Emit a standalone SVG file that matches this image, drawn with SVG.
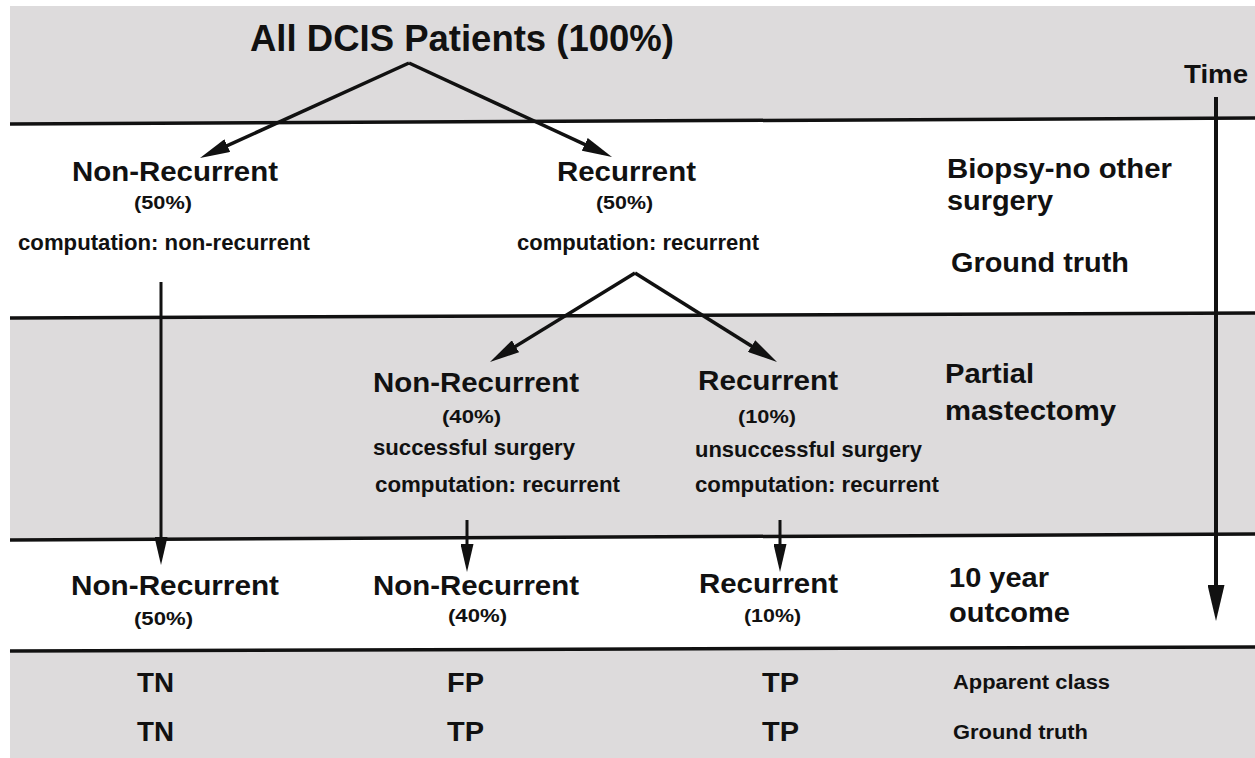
<svg xmlns="http://www.w3.org/2000/svg" width="1255" height="758" viewBox="0 0 1255 758">
  <style>
    text { font-family: "Liberation Sans", Arial, Helvetica, sans-serif; font-weight: bold; fill: #111; }
    .big { font-size: 28px; }
    .pct { font-size: 19px; }
    .small { font-size: 22px; }
    .stage { font-size: 27px; }
    .cls { font-size: 27px; }
    .note { font-size: 20px; }
    .band { fill: #dddbdc; }
    .rule { stroke: #111; stroke-width: 3.5; fill: none; }
    .edge { stroke: #111; stroke-width: 3.5; fill: none; marker-end: url(#head); }
    .drop { stroke: #111; stroke-width: 3; fill: none; marker-end: url(#headV); }
  </style>
  <defs>
    <marker id="head" markerUnits="userSpaceOnUse" viewBox="0 0 30 14" markerWidth="30" markerHeight="14" refX="20" refY="7" orient="auto">
      <path d="M0,0 L30,7 L0,14 z" fill="#111"/>
    </marker>
    <marker id="headV" markerUnits="userSpaceOnUse" viewBox="0 0 28 13" markerWidth="28" markerHeight="13" refX="18" refY="6.5" orient="auto">
      <path d="M0,0 L28,6.5 L0,13 z" fill="#111"/>
    </marker>
    <marker id="headT" markerUnits="userSpaceOnUse" viewBox="0 0 36 17" markerWidth="36" markerHeight="17" refX="26" refY="8.5" orient="auto">
      <path d="M0,0 L36,8.5 L0,17 z" fill="#111"/>
    </marker>
  </defs>

  <!-- alternating stage bands -->
  <g id="bands">
    <polygon class="band" points="10,6 1255,6 1255,118 10,124"/>
    <polygon class="band" points="10,318 1255,313 1255,534 10,540"/>
    <polygon class="band" points="10,651 1255,647 1255,758 10,758"/>
    <line class="rule" x1="10" y1="124" x2="1255" y2="118"/>
    <line class="rule" x1="10" y1="318" x2="1255" y2="313"/>
    <line class="rule" x1="10" y1="540" x2="1255" y2="534"/>
    <line class="rule" x1="10" y1="651" x2="1255" y2="647" stroke-width="5"/>
  </g>

  <!-- connectors -->
  <g id="connectors">
    <polyline class="edge" points="409,63 209.1,153.9"/>
    <polyline class="edge" points="409,63 602.9,152.8"/>
    <line class="drop" x1="161" y1="282" x2="161" y2="555"/>
    <polyline class="edge" points="635,273 498.5,356.8"/>
    <polyline class="edge" points="635,273 768.5,356.7"/>
    <line class="drop" x1="467" y1="520" x2="467" y2="562"/>
    <line class="drop" x1="780" y1="520" x2="780" y2="562"/>
    <line x1="1216" y1="97" x2="1216" y2="611" stroke="#111" stroke-width="4" marker-end="url(#headT)"/>
  </g>

  <g id="root">
    <text x="250" y="51" font-size="36" textLength="424" lengthAdjust="spacingAndGlyphs">All DCIS Patients (100%)</text>
  </g>

  <g id="time-label">
    <text x="1184" y="83" font-size="26" textLength="64" lengthAdjust="spacingAndGlyphs">Time</text>
  </g>

  <g id="biopsy-nonrecurrent">
    <text class="big" x="72" y="181" textLength="206" lengthAdjust="spacingAndGlyphs">Non-Recurrent</text>
    <text class="pct" x="134" y="209" textLength="58" lengthAdjust="spacingAndGlyphs">(50%)</text>
    <text class="small" x="18" y="250" textLength="292" lengthAdjust="spacingAndGlyphs">computation: non-recurrent</text>
  </g>

  <g id="biopsy-recurrent">
    <text class="big" x="557" y="181" textLength="139" lengthAdjust="spacingAndGlyphs">Recurrent</text>
    <text class="pct" x="596" y="209" textLength="57" lengthAdjust="spacingAndGlyphs">(50%)</text>
    <text class="small" x="517" y="250" textLength="242" lengthAdjust="spacingAndGlyphs">computation: recurrent</text>
  </g>

  <g id="surgery-nonrecurrent">
    <text class="big" x="373" y="392" textLength="206" lengthAdjust="spacingAndGlyphs">Non-Recurrent</text>
    <text class="pct" x="442" y="423" textLength="59" lengthAdjust="spacingAndGlyphs">(40%)</text>
    <text class="small" x="373" y="455" textLength="202" lengthAdjust="spacingAndGlyphs">successful surgery</text>
    <text class="small" x="375" y="492" textLength="245" lengthAdjust="spacingAndGlyphs">computation: recurrent</text>
  </g>

  <g id="surgery-recurrent">
    <text class="big" x="698" y="390" textLength="140" lengthAdjust="spacingAndGlyphs">Recurrent</text>
    <text class="pct" x="738" y="423" textLength="58" lengthAdjust="spacingAndGlyphs">(10%)</text>
    <text class="small" x="695" y="457" textLength="227" lengthAdjust="spacingAndGlyphs">unsuccessful surgery</text>
    <text class="small" x="695" y="492" textLength="244" lengthAdjust="spacingAndGlyphs">computation: recurrent</text>
  </g>

  <g id="outcome-nonrecurrent-50">
    <text class="big" x="71" y="595" textLength="208" lengthAdjust="spacingAndGlyphs">Non-Recurrent</text>
    <text class="pct" x="134" y="625" textLength="59" lengthAdjust="spacingAndGlyphs">(50%)</text>
  </g>

  <g id="outcome-nonrecurrent-40">
    <text class="big" x="373" y="595" textLength="206" lengthAdjust="spacingAndGlyphs">Non-Recurrent</text>
    <text class="pct" x="448" y="622" textLength="59" lengthAdjust="spacingAndGlyphs">(40%)</text>
  </g>

  <g id="outcome-recurrent-10">
    <text class="big" x="699" y="593" textLength="139" lengthAdjust="spacingAndGlyphs">Recurrent</text>
    <text class="pct" x="744" y="622" textLength="57" lengthAdjust="spacingAndGlyphs">(10%)</text>
  </g>

  <!-- stage captions on the right -->
  <g id="stage-biopsy">
    <text class="stage" x="947" y="178" textLength="225" lengthAdjust="spacingAndGlyphs">Biopsy-no other</text>
    <text class="stage" x="947" y="210" textLength="106" lengthAdjust="spacingAndGlyphs">surgery</text>
    <text class="stage" x="951" y="272" textLength="178" lengthAdjust="spacingAndGlyphs">Ground truth</text>
  </g>

  <g id="stage-surgery">
    <text class="stage" x="945" y="383" textLength="89" lengthAdjust="spacingAndGlyphs">Partial</text>
    <text class="stage" x="945" y="420" textLength="171" lengthAdjust="spacingAndGlyphs">mastectomy</text>
  </g>

  <g id="stage-outcome">
    <text class="stage" x="949" y="587" textLength="100" lengthAdjust="spacingAndGlyphs">10 year</text>
    <text class="stage" x="949" y="622" textLength="121" lengthAdjust="spacingAndGlyphs">outcome</text>
  </g>

  <!-- classification table -->
  <g id="class-nonrecurrent-50">
    <text class="cls" x="137" y="692" textLength="37" lengthAdjust="spacingAndGlyphs">TN</text>
    <text class="cls" x="137" y="741" textLength="37" lengthAdjust="spacingAndGlyphs">TN</text>
  </g>
  <g id="class-nonrecurrent-40">
    <text class="cls" x="447" y="692" textLength="37" lengthAdjust="spacingAndGlyphs">FP</text>
    <text class="cls" x="447" y="741" textLength="37" lengthAdjust="spacingAndGlyphs">TP</text>
  </g>
  <g id="class-recurrent-10">
    <text class="cls" x="762" y="692" textLength="37" lengthAdjust="spacingAndGlyphs">TP</text>
    <text class="cls" x="762" y="741" textLength="37" lengthAdjust="spacingAndGlyphs">TP</text>
  </g>
  <g id="class-legend">
    <text class="note" x="953" y="689" textLength="157" lengthAdjust="spacingAndGlyphs">Apparent class</text>
    <text class="note" x="953" y="739" textLength="135" lengthAdjust="spacingAndGlyphs">Ground truth</text>
  </g>
</svg>
